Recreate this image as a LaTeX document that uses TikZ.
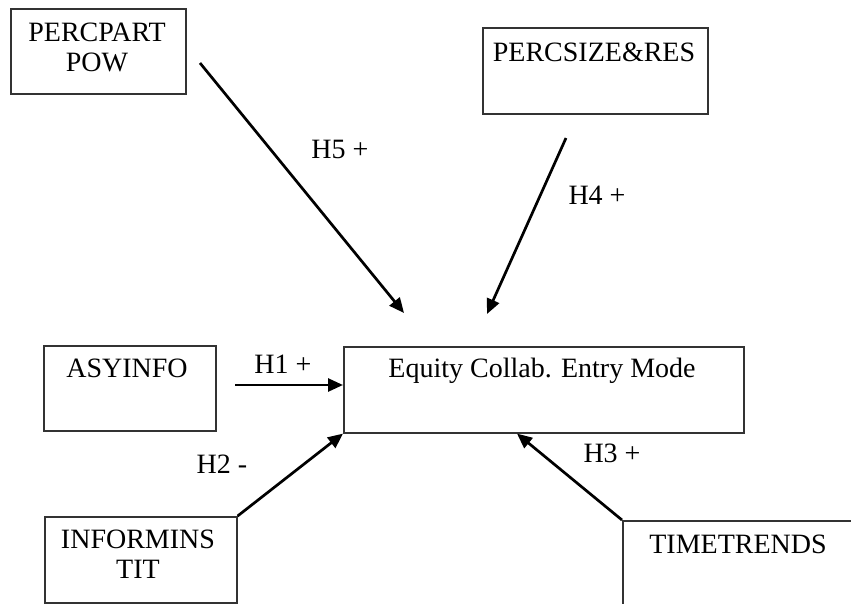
\documentclass[tikz,border=0pt]{standalone}
\usepackage{fontspec}
\setmainfont{Liberation Serif}
\usetikzlibrary{arrows.meta}
\begin{document}
\begin{tikzpicture}[x=1pt,y=-1pt,
  boxstyle/.style={draw=black!80,line width=1.6pt,rectangle,inner sep=0pt},
  txt/.style={font=\fontsize{28}{32}\selectfont,inner sep=0pt,align=center},
  lbl/.style={font=\fontsize{28}{32}\selectfont,inner sep=0pt},
  arr/.style={line width=2.7pt,-{Triangle[length=15pt,width=13pt]}}]
\clip (0,0) rectangle (851,603);
\fill[white] (0,0) rectangle (851,603);
% boxes
\node[boxstyle,minimum width=175pt,minimum height=85pt,anchor=north west] (pp) at (10,8) {};
\node[boxstyle,minimum width=225pt,minimum height=86pt,anchor=north west] (ps) at (482,27) {};
\node[boxstyle,minimum width=172pt,minimum height=85pt,anchor=north west] (asy) at (43,345) {};
\node[boxstyle,minimum width=400pt,minimum height=86pt,anchor=north west] (eq) at (343,346) {};
\node[boxstyle,minimum width=192pt,minimum height=86pt,anchor=north west] (inf) at (44,516) {};
\node[boxstyle,minimum width=240pt,minimum height=100pt,anchor=north west] (tt) at (622,520) {};
% texts
\node[txt] (tpp1) at (97,32) {PERCPART};
\node[txt] (tpp2) at (97,62) {POW};
\node[txt] (tps) at (594,52) {PERCSIZE\&RES};
\node[txt] (tasy) at (127,368) {ASYINFO};
\node[txt] (teq) at (542,371) {Equity Collab. Entry Mode};
\node[txt] (tinf1) at (138,539) {INFORMINS};
\node[txt] (tinf2) at (138,569) {TIT};
\node[txt] (ttt) at (738,544) {TIMETRENDS};
% free ends
\coordinate (h5s) at (200,63);
\coordinate (h5e) at (404,313);
\coordinate (h4s) at (566,138);
\coordinate (h4e) at (487,314);
\coordinate (h1s) at (235,385);
% arrows
\draw[arr] (h5s) -- (h5e);
\draw[arr] (h4s) -- (h4e);
\draw[arr] (h1s) -- (eq.west |- h1s);
\draw[arr] (inf.north east) -- (eq.south west);
\draw[arr] (tt.north west) -- ([xshift=174pt]eq.south west);
% labels
\node[lbl] (l5) at (340,149) {H5 +};
\node[lbl] (l4) at (597,195) {H4 +};
\node[lbl] (l1) at (283,364) {H1 +};
\node[lbl] (l2) at (222,464) {H2 -};
\node[lbl] (l3) at (612,453) {H3 +};
\end{tikzpicture}
\end{document}
